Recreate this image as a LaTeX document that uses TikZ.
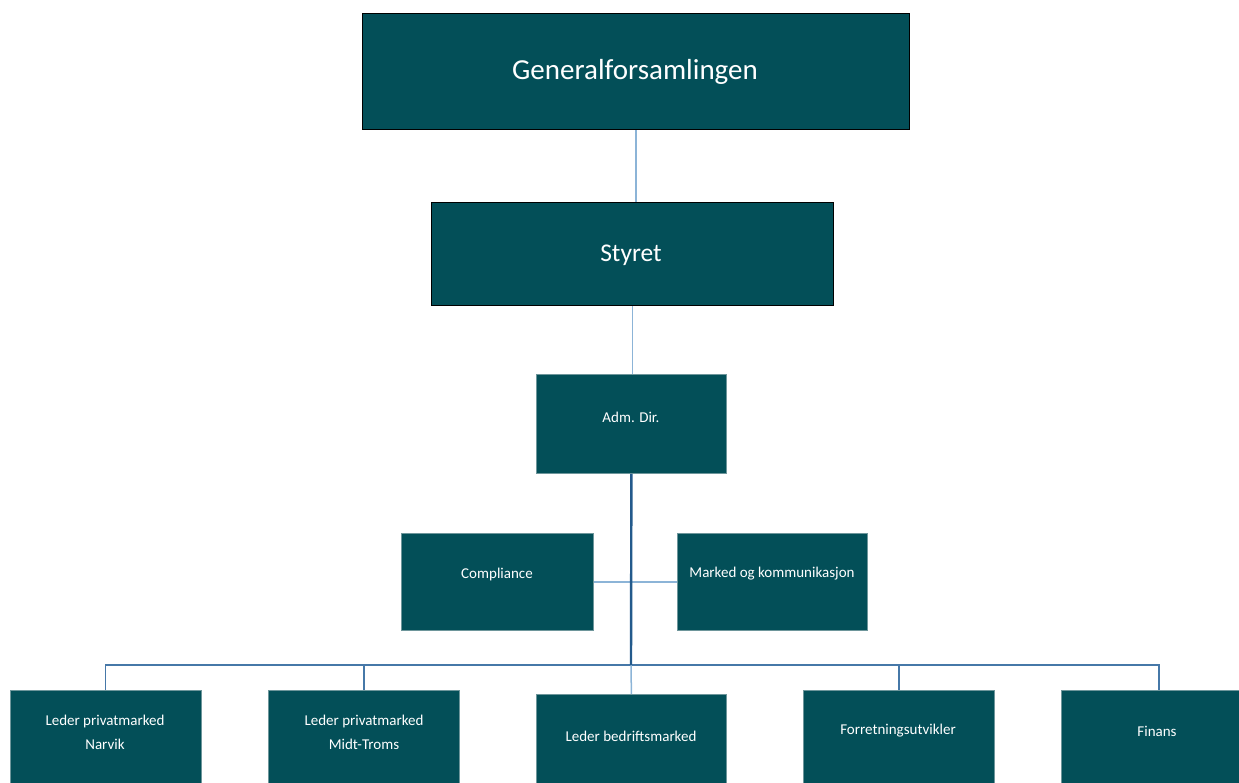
\documentclass[tikz,border=0pt]{standalone}
\usepackage{fontspec}
\setmainfont{Carlito}
\definecolor{boxfill}{RGB}{3,79,88}
\definecolor{boxedge}{RGB}{110,150,155}
\definecolor{lightline}{RGB}{140,180,215}
\definecolor{midline}{RGB}{70,120,168}
\definecolor{darkline}{RGB}{35,90,140}
\tikzset{
  orgbox/.style={fill=boxfill, draw=boxedge, line width=0.8pt, anchor=north west, inner sep=0pt},
  topbox/.style={orgbox, draw=black, line width=1.2pt},
  boxtext/.style={text=white, inner sep=0pt, align=center, font=\fontsize{15}{24}\selectfont},
  conn/.style={draw=lightline, line width=1.5pt},
  branch/.style={draw=midline, line width=1.6pt},
  trunk/.style={draw=darkline, line width=2.4pt}
}
\begin{document}
\begin{tikzpicture}[x=1pt,y=-1pt]
\useasboundingbox (0,0) rectangle (1239,783);
\clip (0,0) rectangle (1239,783);
% boxes
\node[topbox, minimum width=547pt, minimum height=116pt] (gf) at (362,13) {};
\node[text=white, font=\fontsize{29}{33}\selectfont, inner sep=0pt] (tgf) at (635,72) {Generalforsamlingen};
\node[topbox, minimum width=402pt, minimum height=103pt] (sty) at (431,202) {};
\node[text=white, font=\fontsize{25.5}{29}\selectfont, inner sep=0pt] (tsty) at (631,255) {Styret};
\node[orgbox, minimum width=190pt, minimum height=99pt] (adm) at (536,374) {};
\node[boxtext] (tadm) at (631,417) {Adm. Dir.};
\node[orgbox, minimum width=192pt, minimum height=97pt] (comp) at (401,533) {};
\node[boxtext] (tcomp) at (497,574) {Compliance};
\node[orgbox, minimum width=190pt, minimum height=97pt] (mk) at (677,533) {};
\node[boxtext] (tmk) at (772,574) {Marked og kommunikasjon};
\node[orgbox, minimum width=191pt, minimum height=100pt] (b1) at (10,690) {};
\node[boxtext] (tb1) at (105,732) {Leder privatmarked\\Narvik};
\node[orgbox, minimum width=191pt, minimum height=100pt] (b2) at (268,690) {};
\node[boxtext] (tb2) at (364,732) {Leder privatmarked\\Midt-Troms};
\node[orgbox, minimum width=190pt, minimum height=100pt] (b3) at (536,694) {};
\node[boxtext] (tb3) at (631,736) {Leder bedriftsmarked};
\node[orgbox, minimum width=191pt, minimum height=100pt] (b4) at (803,690) {};
\node[boxtext] (tb4) at (898,731) {Forretningsutvikler};
\node[orgbox, minimum width=195pt, minimum height=100pt] (b5) at (1061,690) {};
\node[boxtext] (tb5) at (1157,731) {Finans};
% connectors
\coordinate (bar) at (631,665);
\draw[conn] (gf.south) -- (sty.north -| gf.south);
\draw[conn] (sty.south) -- (sty.south |- adm.north);
\draw[conn] (comp.east) -- (mk.west);
\draw[branch] (b1.north) ++(-0.5,0) |- (bar) -| (b5.north);
\draw[branch] (b2.north) -- (b2.north |- bar);
\draw[branch] (b4.north) -- (b4.north |- bar);
\draw[conn] (b3.north) -- (bar);
\draw[trunk] (adm.south) -- (bar);
\end{tikzpicture}
\end{document}
